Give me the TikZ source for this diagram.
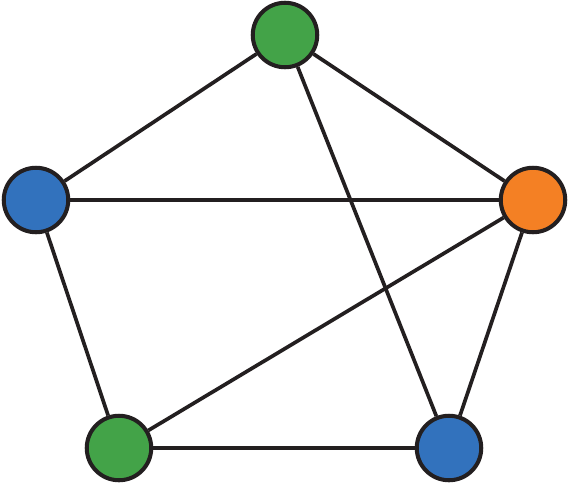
\documentclass[tikz,border=0pt]{standalone}
\usepackage{xcolor}
\definecolor{vertgreen}{RGB}{67, 163, 72}
\definecolor{vertblue}{RGB}{50, 114, 189}
\definecolor{vertorange}{RGB}{244, 128, 36}
\definecolor{edgeblack}{RGB}{35, 31, 32}
\usepackage{tikz}
\usetikzlibrary{positioning}

\begin{document}
\begin{tikzpicture}[x=0.02cm, y=-0.02cm,
  vertex/.style={circle, draw=edgeblack, line width=2.3pt, minimum size=1.29cm, inner sep=0pt},
  edge/.style={edgeblack, line width=2.1pt}]

  \useasboundingbox (0, 0) rectangle (568, 484);

  % ---------- vertices ----------
  \node[vertex, fill=vertgreen] (top) at (285, 35) {};
  \node[vertex, fill=vertblue] (left) at (36, 200) {};
  \node[vertex, fill=vertorange] (right) at (533, 200) {};
  \node[vertex, fill=vertgreen] (botleft) at (119, 448) {};
  \node[vertex, fill=vertblue] (botright) at (449, 448) {};

  % ---------- edges ----------
  \draw[edge] (top) -- (left);
  \draw[edge] (top) -- (right);
  \draw[edge] (top) -- (botright);
  \draw[edge] (left) -- (right);
  \draw[edge] (left) -- (botleft);
  \draw[edge] (right) -- (botleft);
  \draw[edge] (right) -- (botright);
  \draw[edge] (botleft) -- (botright);

\end{tikzpicture}
\end{document}
